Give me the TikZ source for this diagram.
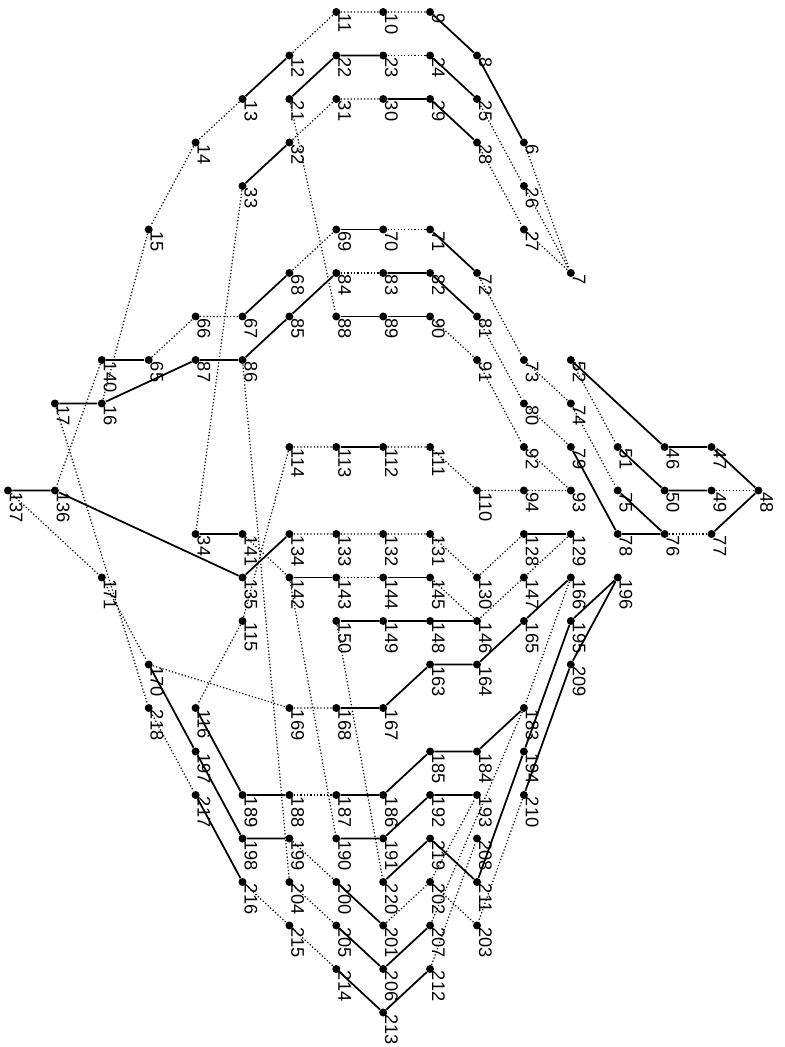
\documentclass[tikz,border=0pt]{standalone}
\usepackage{fontspec}
\setmainfont{Liberation Sans}

\tikzset{
  vtx/.style={circle,fill=black,inner sep=0pt,minimum size=0.16cm},
  lbl/.style={rotate=-90,anchor=base west,inner sep=0pt,font=\fontsize{10.4}{12}\selectfont},
  link/.style={line width=1pt},
  weaklink/.style={line width=0.7pt,dash pattern=on 0.7pt off 1.2pt}
}
\newcommand{\Vertex}[3]{\node[vtx] (N#1) at (#2,#3) {};
  \path (N#1.center) ++(0.04cm,-0.03cm) node[lbl] (L#1) {#1};}

\begin{document}
\begin{tikzpicture}[x=0.938cm,y=-0.87cm]
                \useasboundingbox (-0.16cm,0.24cm) rectangle (15.52cm,-20.70cm);

                \Vertex{11}{7}{0} \Vertex{10}{8}{0} \Vertex{9}{9}{0}
                \Vertex{12}{6}{1} \Vertex{22}{7}{1} \Vertex{23}{8}{1} \Vertex{24}{9}{1} \Vertex{8}{10}{1}
                \Vertex{13}{5}{2} \Vertex{21}{6}{2} \Vertex{31}{7}{2} \Vertex{30}{8}{2} \Vertex{29}{9}{2} \Vertex{25}{10}{2}
                \Vertex{14}{4}{3} \Vertex{32}{6}{3} \Vertex{28}{10}{3} \Vertex{6}{11}{3}
                \Vertex{33}{5}{4} \Vertex{26}{11}{4}
                \Vertex{15}{3}{5} \Vertex{69}{7}{5} \Vertex{70}{8}{5} \Vertex{71}{9}{5} \Vertex{27}{11}{5}
                \Vertex{68}{6}{6} \Vertex{84}{7}{6} \Vertex{83}{8}{6} \Vertex{82}{9}{6} \Vertex{72}{10}{6} \Vertex{7}{12}{6}
                \Vertex{66}{4}{7} \Vertex{67}{5}{7} \Vertex{85}{6}{7} \Vertex{88}{7}{7} \Vertex{89}{8}{7} \Vertex{90}{9}{7} \Vertex{81}{10}{7}
                \Vertex{140}{2}{8} \Vertex{65}{3}{8} \Vertex{87}{4}{8} \Vertex{86}{5}{8} \Vertex{91}{10}{8} \Vertex{73}{11}{8} \Vertex{52}{12}{8}
                \Vertex{17}{1}{9} \Vertex{16}{2}{9} \Vertex{80}{11}{9} \Vertex{74}{12}{9}
                \Vertex{114}{6}{10} \Vertex{113}{7}{10} \Vertex{112}{8}{10} \Vertex{111}{9}{10} \Vertex{92}{11}{10} \Vertex{79}{12}{10} \Vertex{51}{13}{10} \Vertex{46}{14}{10} \Vertex{47}{15}{10}
                \Vertex{137}{0}{11} \Vertex{136}{1}{11} \Vertex{110}{10}{11} \Vertex{94}{11}{11} \Vertex{93}{12}{11} \Vertex{75}{13}{11} \Vertex{50}{14}{11} \Vertex{49}{15}{11} \Vertex{48}{16}{11}
                \Vertex{34}{4}{12} \Vertex{141}{5}{12} \Vertex{134}{6}{12} \Vertex{133}{7}{12} \Vertex{132}{8}{12} \Vertex{131}{9}{12} \Vertex{128}{11}{12} \Vertex{129}{12}{12} \Vertex{78}{13}{12} \Vertex{76}{14}{12} \Vertex{77}{15}{12}
                \Vertex{171}{2}{13} \Vertex{135}{5}{13} \Vertex{142}{6}{13} \Vertex{143}{7}{13} \Vertex{144}{8}{13} \Vertex{145}{9}{13} \Vertex{130}{10}{13} \Vertex{147}{11}{13} \Vertex{166}{12}{13} \Vertex{196}{13}{13}
                \Vertex{115}{5}{14} \Vertex{150}{7}{14} \Vertex{149}{8}{14} \Vertex{148}{9}{14} \Vertex{146}{10}{14} \Vertex{165}{11}{14} \Vertex{195}{12}{14}
                \Vertex{170}{3}{15} \Vertex{163}{9}{15} \Vertex{164}{10}{15} \Vertex{209}{12}{15}
                \Vertex{218}{3}{16} \Vertex{116}{4}{16} \Vertex{169}{6}{16} \Vertex{168}{7}{16} \Vertex{167}{8}{16} \Vertex{183}{11}{16}
                \Vertex{197}{4}{17} \Vertex{185}{9}{17} \Vertex{184}{10}{17} \Vertex{194}{11}{17}
                \Vertex{217}{4}{18} \Vertex{189}{5}{18} \Vertex{188}{6}{18} \Vertex{187}{7}{18} \Vertex{186}{8}{18} \Vertex{192}{9}{18} \Vertex{193}{10}{18} \Vertex{210}{11}{18}
                \Vertex{198}{5}{19} \Vertex{199}{6}{19} \Vertex{190}{7}{19} \Vertex{191}{8}{19} \Vertex{219}{9}{19} \Vertex{208}{10}{19}
                \Vertex{216}{5}{20} \Vertex{204}{6}{20} \Vertex{200}{7}{20} \Vertex{220}{8}{20} \Vertex{202}{9}{20} \Vertex{211}{10}{20}
                \Vertex{215}{6}{21} \Vertex{205}{7}{21} \Vertex{201}{8}{21} \Vertex{207}{9}{21} \Vertex{203}{10}{21}
                \Vertex{214}{7}{22} \Vertex{206}{8}{22} \Vertex{212}{9}{22}
                \Vertex{213}{8}{23}

                % solid links
                \draw[link] (N9)--(N8)--(N6);
                \draw[link] (N12)--(N13);
                \draw[link] (N21)--(N22)--(N23);
                \draw[link] (N24)--(N25);
                \draw[link] (N30)--(N29)--(N28);
                \draw[link] (N32)--(N33);
                \draw[link] (N67)--(N68);
                \draw[link] (N69)--(N70);
                \draw[link] (N71)--(N72);
                \draw[link] (N17)--(N16)--(N87)--(N86)--(N85)--(N84);
                \draw[link] (N83)--(N82)--(N81);
                \draw[link] (N88)--(N89)--(N90);
                \draw[link] (N140)--(N65);
                \draw[link] (N52)--(N46)--(N47)--(N48)--(N77);
                \draw[link] (N51)--(N50)--(N49);
                \draw[link] (N75)--(N76);
                \draw[link] (N79)--(N78)--(N76);
                \draw[link] (N113)--(N112);
                \draw[link] (N137)--(N136)--(N135)--(N134);
                \draw[link] (N34)--(N141);
                \draw[link] (N128)--(N129);
                \draw[link] (N142)--(N143);
                \draw[link] (N144)--(N145);
                \draw[link] (N150)--(N149)--(N148)--(N146);
                \draw[link] (N168)--(N167)--(N163)--(N164)--(N165)--(N166);
                \draw[link] (N196)--(N195)--(N194)--(N211);
                \draw[link] (N196)--(N209)--(N210);
                \draw[link] (N170)--(N197)--(N198)--(N199);
                \draw[link] (N217)--(N216);
                \draw[link] (N116)--(N189)--(N188);
                \draw[link] (N187)--(N186)--(N185)--(N184)--(N183);
                \draw[link] (N190)--(N191)--(N192)--(N193);
                \draw[link] (N200)--(N201);
                \draw[link] (N220)--(N219)--(N211);
                \draw[link] (N205)--(N206)--(N207);
                \draw[link] (N214)--(N213)--(N212);

                % dotted links
                \draw[weaklink] (N12)--(N11)--(N10)--(N9);
                \draw[weaklink] (N6)--(N7);
                \draw[weaklink] (N13)--(N14)--(N15)--(N16);
                \draw[weaklink] (N23)--(N24);
                \draw[weaklink] (N25)--(N26)--(N7);
                \draw[weaklink] (N28)--(N27)--(N7);
                \draw[weaklink] (N21)--(N88);
                \draw[weaklink] (N32)--(N31)--(N30);
                \draw[weaklink] (N33)--(N34);
                \draw[weaklink] (N65)--(N66)--(N67);
                \draw[weaklink] (N68)--(N69);
                \draw[weaklink] (N70)--(N71);
                \draw[weaklink] (N84)--(N83);
                \draw[weaklink] (N90)--(N91)--(N92)--(N93);
                \draw[weaklink] (N81)--(N80)--(N79);
                \draw[weaklink] (N72)--(N73)--(N74)--(N75);
                \draw[weaklink] (N76)--(N77);
                \draw[weaklink] (N52)--(N51);
                \draw[weaklink] (N49)--(N48);
                \draw[weaklink] (N140)--(N136);
                \draw[weaklink] (N115)--(N114)--(N113);
                \draw[weaklink] (N112)--(N111)--(N110)--(N94)--(N93);
                \draw[weaklink] (N137)--(N171)--(N170)--(N169)--(N168);
                \draw[weaklink] (N17)--(N218)--(N217);
                \draw[weaklink] (N141)--(N142);
                \draw[weaklink] (N134)--(N133)--(N132)--(N131)--(N130)--(N128);
                \draw[weaklink] (N129)--(N147)--(N146)--(N145);
                \draw[weaklink] (N143)--(N144);
                \draw[weaklink] (N166)--(N183);
                \draw[weaklink] (N115)--(N116);
                \draw[weaklink] (N188)--(N187);
                \draw[weaklink] (N86)--(N204)--(N205);
                \draw[weaklink] (N142)--(N190);
                \draw[weaklink] (N150)--(N220);
                \draw[weaklink] (N199)--(N200);
                \draw[weaklink] (N201)--(N202)--(N203);
                \draw[weaklink] (N216)--(N215)--(N214);
                \draw[weaklink] (N202)--(N193);
                \draw[weaklink] (N207)--(N183);
                \draw[weaklink] (N212)--(N208);
                \draw[weaklink] (N210)--(N203);
            \end{tikzpicture}
\end{document}
